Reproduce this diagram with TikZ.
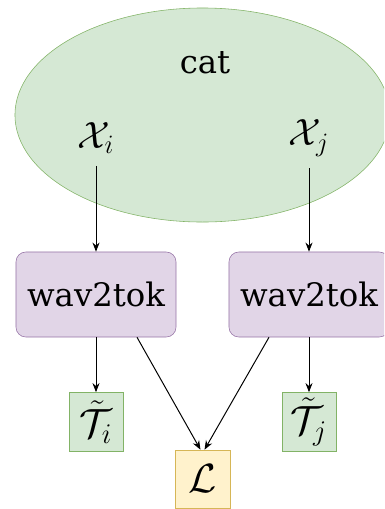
\documentclass[tikz,border=0pt]{standalone}
\usepackage{fix-cm}
\usepackage{amsmath}
\usepackage{fontspec}
\setmainfont{DejaVu Serif}
\usetikzlibrary{arrows.meta,shapes.geometric}
\definecolor{poolfill}{HTML}{D5E8D4}
\definecolor{pooldraw}{HTML}{82B366}
\definecolor{encfill}{HTML}{E1D5E7}
\definecolor{encdraw}{HTML}{9673A6}
\definecolor{lossfill}{HTML}{FFF2CC}
\definecolor{lossdraw}{HTML}{D6B656}

\begin{document}
\begin{tikzpicture}[
  x=0.025cm, y=-0.025cm,
  >={Stealth[length=6.5pt,width=5pt]},
  pool/.style={ellipse, draw=pooldraw, fill=poolfill, minimum width=9.375cm, minimum height=5.35cm},
  enc/.style={draw=encdraw, fill=encfill, rounded corners=7pt, minimum width=4cm, minimum height=2.125cm,
              font=\fontsize{23}{28}\selectfont},
  tok/.style={draw=pooldraw, fill=poolfill, minimum width=1.35cm, minimum height=1.475cm,
              inner sep=0pt, font=\fontsize{29}{34}\selectfont},
  loss/.style={draw=lossdraw, fill=lossfill, minimum width=1.375cm, minimum height=1.45cm,
               inner sep=0pt, font=\fontsize{29}{34}\selectfont},
  var/.style={font=\fontsize{27}{32}\selectfont, inner sep=0pt, outer sep=0.3cm},
  conn/.style={->, line width=0.7pt},
]
\useasboundingbox (0,0) rectangle (384,509);
\clip (0,0) rectangle (384,509);

% Ellipse with the two inputs
\node[pool] (pool) at (202.5,115) {};
\node[font=\fontsize{23}{28}\selectfont] (cat) at (205,63) {cat};
\node[var] (xi) at (96,138) {$\mathcal{X}_i$};
\node[var] (xj) at (309,138) {$\mathcal{X}_j$};

% Encoders
\node[enc] (enci) at (96,294.5) {wav2tok};
\node[enc] (encj) at (309,294.5) {wav2tok};

% Outputs
\node[tok] (ti) at (96,422) {$\tilde{\mathcal{T}}_i$};
\node[tok] (tj) at (309,422) {$\tilde{\mathcal{T}}_j$};
\node[loss] (loss) at (202.5,479) {$\mathcal{L}$};

% Arrows: inputs -> encoders
\draw[conn] (xi.south) -- (enci.north);
\draw[conn] (xj.south) -- (encj.north);
% Arrows: encoders -> tokens
\draw[conn] (enci.south) -- (ti.north);
\draw[conn] (encj.south) -- (tj.north);
% Arrows: encoders -> loss
\draw[conn] ([xshift=1.025cm]enci.south) -- ([xshift=-0.05cm]loss.north);
\draw[conn] ([xshift=-1cm]encj.south) -- ([xshift=0.05cm]loss.north);
\end{tikzpicture}
\end{document}
